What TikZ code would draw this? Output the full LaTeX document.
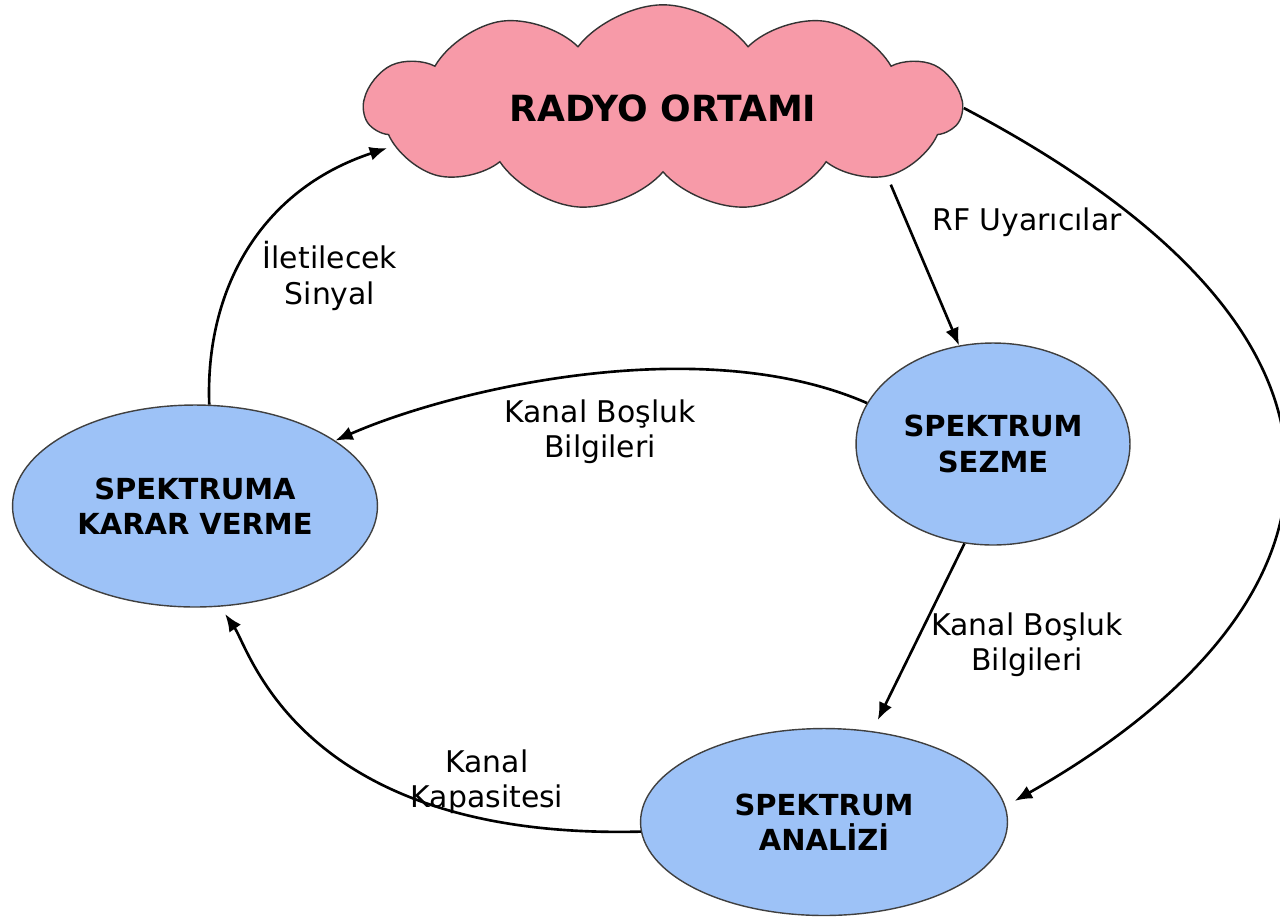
\documentclass[tikz,border=0pt]{standalone}
\usepackage{fontspec}
\setmainfont{DejaVu Sans}
\usetikzlibrary{shapes.geometric,shapes.symbols,arrows.meta}

\definecolor{cloudpink}{RGB}{247,154,168}
\definecolor{ovalblue}{RGB}{157,194,247}

\tikzset{
  stage/.style={ellipse,draw=black!75,line width=0.8pt,fill=ovalblue,align=center,
    font=\bfseries\fontsize{16.5}{20}\selectfont},
  flow/.style={-{Latex[length=10pt,width=8pt]},line width=1.5pt,black},
  note/.style={align=center,font=\fontsize{17}{20}\selectfont}
}

\begin{document}
\begin{tikzpicture}[x=0.02cm,y=-0.02cm]
        \useasboundingbox (0,0) rectangle (1280,917);

        % radio environment
        \node[cloud,cloud puffs=11,cloud puff arc=105,aspect=3,draw=black!80,line width=0.8pt,
              fill=cloudpink,minimum width=11.94cm,minimum height=3.9cm,
              font=\bfseries\fontsize{20.5}{24}\selectfont] (radyo) at (663,108) {RADYO ORTAMI};

        % stages
        \node[stage,minimum width=5.48cm,minimum height=4.04cm] (sezme) at (993,444) {SPEKTRUM\\SEZME};
        \node[stage,minimum width=7.3cm,minimum height=4.04cm] (karar) at (195,506) {SPEKTRUMA\\KARAR VERME};
        \node[stage,minimum width=7.34cm,minimum height=3.74cm] (analiz) at (824,822) {SPEKTRUM\\ANAL\.{I}Z\.{I}};

        % labels
        \node[note] (rf) at (1027,222) {RF Uyarıcılar};
        \node[note] (sinyal) at (330,276) {İletilecek\\Sinyal};
        \node[note] (bosluk1) at (600,432) {Kanal Boşluk\\Bilgileri};
        \node[note] (bosluk2) at (1027,645) {Kanal Boşluk\\Bilgileri};
        \node[note] (kapasite) at (487,782) {Kanal\\Kapasitesi};

        % arrows
        \draw[flow,shorten <=5pt] (radyo.-17) -- (sezme.109);
        \draw[flow,shorten >=6pt] (radyo.east) .. controls (1427,352) and (1339,617) .. (analiz.5);
        \draw[flow] (sezme.162) .. controls (700,330) and (450,390) .. (karar.25);
        \draw[flow,shorten >=7pt] (sezme.-106) -- (analiz.62);
        \draw[flow,shorten >=5pt] (analiz.183) .. controls (300,840) and (250,650) .. (karar.-76);
        \draw[flow,shorten >=4pt] (karar.82) .. controls (205,290) and (260,190) .. (radyo.188);
\end{tikzpicture}
\end{document}
